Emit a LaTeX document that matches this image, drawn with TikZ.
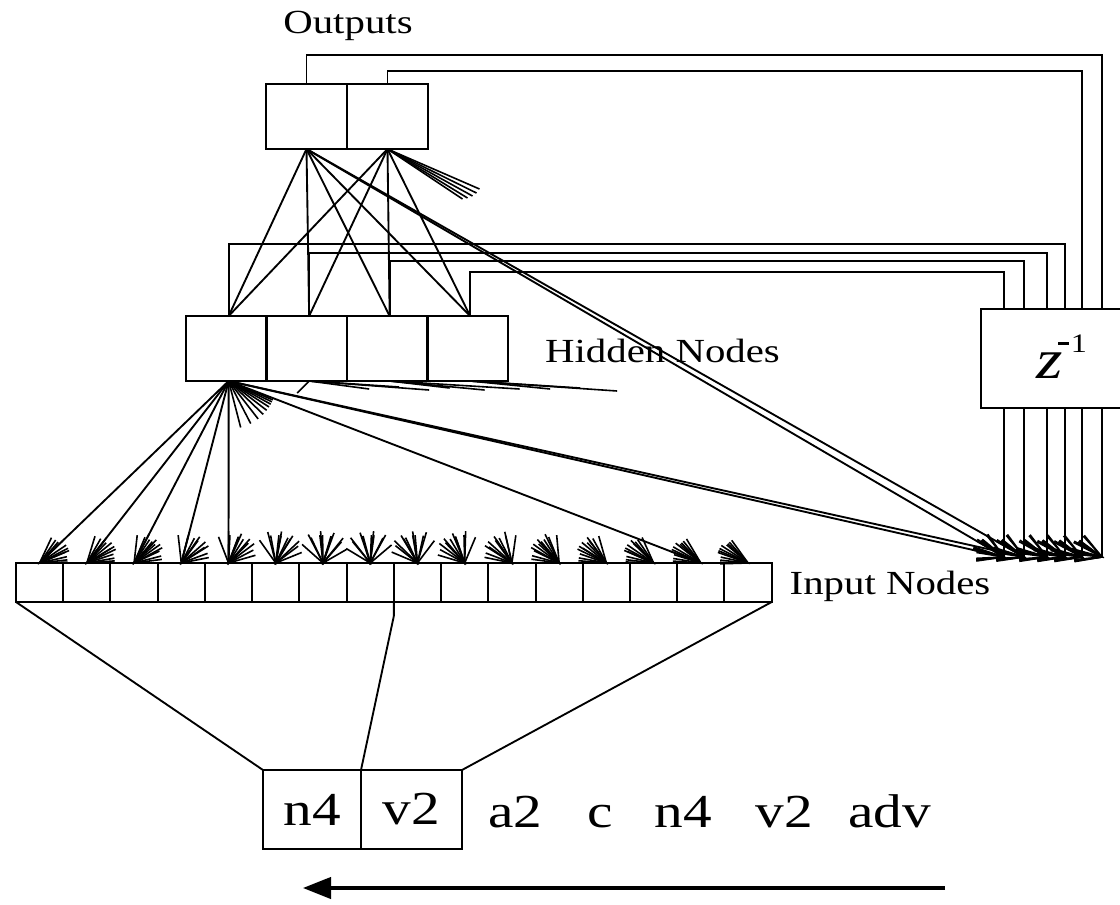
\documentclass[tikz,border=0pt]{standalone}
\usepackage{fontspec}
\setmainfont{Liberation Serif}
\usetikzlibrary{calc,arrows.meta}
% slightly widened lettering
\newcommand\wide[1]{\scalebox{1.21}[1]{#1}}
% short arrow stub with an open head at #1, pointing away from #2
\newcommand\arrowstub[2]{%
  \draw[stub] ($(#1)!24pt!(#2)$) -- (#1);
  \draw[stub] ($(#1)!21pt!21:(#2)$) -- (#1) -- ($(#1)!21pt!-21:(#2)$);%
}
\begin{document}
\begin{tikzpicture}[x=0.75pt,y=-0.75pt,
  wire/.style={line width=1.4pt},
  stub/.style={line width=1.2pt},
  box/.style={draw,line width=1.5pt,inner sep=0pt,outer sep=0pt},
  outbox/.style={box,minimum width=60.75pt,minimum height=48.75pt},
  hidbox/.style={box,minimum width=60.4pt,minimum height=48.75pt},
  inbox/.style={box,minimum width=35.42pt,minimum height=29.25pt},
  zbox/.style={box,minimum width=119.25pt,minimum height=74.25pt},
  wordbox/.style={box,minimum height=59.25pt,font=\fontsize{35.5}{36}\selectfont},
  word/.style={anchor=base,inner sep=0pt,font=\fontsize{35.5}{36}\selectfont},
  label/.style={inner sep=0pt,font=\fontsize{25.3}{26}\selectfont}]
\useasboundingbox (0,0) rectangle (1120,904);
\clip (0,0) rectangle (1120,904);

% ---- units ----
\node[outbox] (o1) at (306.5,116.5) {};
\node[outbox] (o2) at (387.5,116.5) {};
\foreach \k/\x in {1/226.25,2/306.75,3/387.25,4/467.75}
  \node[hidbox] (h\k) at (\x,348.5) {};
\foreach \k in {1,...,4} {
  \coordinate (ht\k) at ([xshift=1.8pt]h\k.north);
  \coordinate (hb\k) at ([xshift=1.8pt]h\k.south);
}
\foreach \k in {1,...,16}
  \node[inbox] (i\k) at ({16+(\k-0.5)*47.23},582.5) {};
\node[zbox] (z) at (1060.5,358.5) {};
\node[anchor=base,inner sep=0pt] (zlab) at (1050,378)
  {\wide{\fontsize{42}{42}\selectfont\itshape z}};
\node[anchor=base west,inner sep=0pt] (zsup) at (1058,352)
  {\rule[5pt]{8pt}{2.4pt}\hspace{1.5pt}\wide{\fontsize{20}{20}\selectfont 1}};

% ---- context unit taps ----
\foreach \k/\x in {1/1004,2/1024,3/1047,4/1065,5/1082,6/1102} {
  \coordinate (zt\k) at (\x,309);
  \coordinate (zb\k) at (\x,408);
  \coordinate (e\k) at (\x,557);
}

% ---- recurrent copies into the delay ----
\draw[wire] (o1.north) -- ++(0,-29) -| (zt6);
\draw[wire] (o2.north) -- ++(0,-13) -| (zt5);
\draw[wire] (ht1) -- ++(0,-72) -| (zt4);
\draw[wire] (ht2) -- ++(0,-63) -| (zt3);
\draw[wire] (ht3) -- ++(0,-55) -| (zt2);
\draw[wire] (ht4) -- ++(0,-44) -| (zt1);
\foreach \k in {1,...,6} \draw[wire] (zb\k) -- (e\k);

% ---- hidden to output ----
\foreach \src in {o1,o2}
  \foreach \k in {1,...,4} \draw[wire] (\src.south) -- (ht\k);

% ---- input to hidden ----
\foreach \k in {1,...,5,15} \draw[wire] (hb1) -- (i\k.north);
\foreach \k in {6,...,14} \draw[stub] (hb1) -- ($(hb1)!36pt!(i\k.north)$);
\foreach \k in {1,...,16} {
  \foreach \j in {1,...,4} {\arrowstub{i\k.north}{hb\j}}
}

% ---- context to hidden / output ----
\foreach \k in {1,2} {
  \draw[wire] (hb1) -- (e\k);
  \draw[wire] (o1.south) -- (e\k);
}
\foreach \dx/\dy in {92/40,89/44,85/47,80/49,75/50}
  \draw[stub] (o2.south) -- ++(\dx,\dy);
\foreach \k in {1,...,6} {
  \foreach \s in {o1.south,o2.south,hb1,hb2,hb3,hb4} {\arrowstub{e\k}{\s}}
}

% ---- short stubs under the hidden row ----
\draw[stub] (hb2) -- ++(-12,12);
\foreach \dx/\dy in {60/8,90/6,120/9} \draw[stub] (hb2) -- ++(\dx,\dy);
\foreach \dx/\dy in {60/7,95/9,130/8} \draw[stub] (hb3) -- ++(\dx,\dy);
\foreach \dx/\dy in {80/8,110/7,147/10} \draw[stub] (hb4) -- ++(\dx,\dy);

% ---- input window ----
\node[wordbox,minimum width=73.5pt] (w1) at (312,809.5) {\wide{n4}};
\node[wordbox,minimum width=75.75pt] (w2) at (411.5,809.5) {\wide{v2}};
\node[word] (w3) at (515.5,827) {\wide{a2}};
\node[word] (w4) at (600,827) {\wide{c}};
\node[word] (w5) at (683,827) {\wide{n4}};
\node[word] (w6) at (784,827) {\wide{v2}};
\node[word] (w7) at (889.7,827) {\wide{adv}};
\draw[wire] (i1.south west) -- (w1.north west);
\draw[wire] (i16.south east) -- (w2.north east);
\draw[wire] (i8.south east) -- ++(0,14) -- (w1.north east);

% ---- reading direction ----
\coordinate (ra) at (945,888);
\coordinate (rb) at (303,888);
\draw[line width=2.4pt,-{Triangle[length=21pt,width=16pt]}] (ra) -- (rb);

% ---- labels ----
\node[label,anchor=base] (lout) at (348,33) {\wide{Outputs}};
\node[label,anchor=base] (lhid) at (662.5,362) {\wide{Hidden Nodes}};
\node[label,anchor=base] (linp) at (890,594) {\wide{Input Nodes}};
\end{tikzpicture}
\end{document}
